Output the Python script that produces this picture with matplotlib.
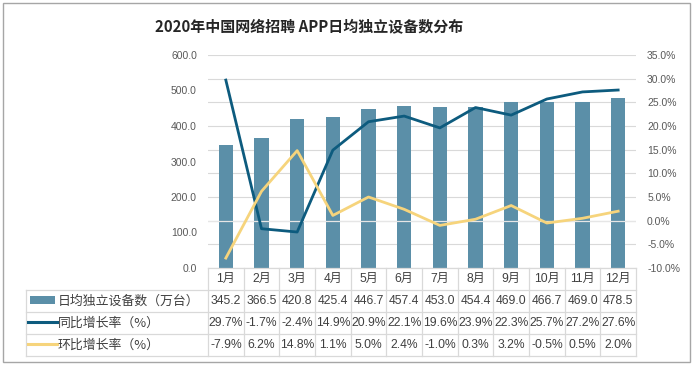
import matplotlib
matplotlib.use("Agg")
import matplotlib.pyplot as plt
import matplotlib.transforms as mtransforms
from matplotlib.patches import Rectangle
from matplotlib.lines import Line2D

plt.rcParams['font.family'] = ['Liberation Sans', 'Noto Sans CJK SC', 'DejaVu Sans']

months = ['1月', '2月', '3月', '4月', '5月', '6月', '7月', '8月', '9月', '10月', '11月', '12月']
devices = [345.2, 366.5, 420.8, 425.4, 446.7, 457.4, 453.0, 454.4, 469.0, 466.7, 469.0, 478.5]
yoy = [29.7, -1.7, -2.4, 14.9, 20.9, 22.1, 19.6, 23.9, 22.3, 25.7, 27.2, 27.6]
mom = [-7.9, 6.2, 14.8, 1.1, 5.0, 2.4, -1.0, 0.3, 3.2, -0.5, 0.5, 2.0]
row_names = ['日均独立设备数（万台）', '同比增长率（%）', '环比增长率（%）']

bar_color = '#5B8FA8'
yoy_color = '#0D5B7E'
mom_color = '#F6D47C'
grid_color = '#D9D9D9'
tick_color = '#595959'

W, H = 694, 366
fig = plt.figure(figsize=(W / 100, H / 100), dpi=100)

def fx(px):
    return px / W

def fy(py):
    return 1 - py / H

# outer border
fig.patches.append(Rectangle((fx(3), fy(362)), fx(687), 359 / H, transform=fig.transFigure,
                             fill=False, edgecolor='#A6A6A6', linewidth=1))

fig.text(fx(309), fy(26), '2020年中国网络招聘 APP日均独立设备数分布', ha='center', va='center',
         fontsize=10.8, fontweight='bold', color='#262626', family=['Noto Sans CJK SC'])

ax_l, ax_r, ax_t, ax_b = 208, 636, 55, 268
ax = fig.add_axes([fx(ax_l), fy(ax_b), (ax_r - ax_l) / W, (ax_b - ax_t) / H])
x = list(range(len(months)))
ax.set_xlim(-0.5, 11.5)
ax.set_ylim(0, 600)
ax.set_yticks(range(0, 601, 100))
ax.set_yticklabels([f'{v:.1f}' for v in range(0, 601, 100)])
ax.tick_params(axis='y', length=0, labelsize=7.5, labelcolor=tick_color, pad=8)
ax.set_xticks([])
for s in ax.spines.values():
    s.set_visible(False)

ax2 = ax.twinx()
ax2.set_ylim(-10, 35)
pt = list(range(-10, 36, 5))
ax2.set_yticks(pt)
ax2.set_yticklabels([f'{v:.1f}%' for v in pt])
ax2.tick_params(axis='y', length=0, labelsize=7.5, labelcolor=tick_color, pad=8)
for s in ax2.spines.values():
    s.set_visible(False)
for v in pt:
    ax.axhline((v + 10) / 45 * 600, color=grid_color, linewidth=0.8, zorder=0)

ax.bar(x, devices, width=0.4, color=bar_color, zorder=2)
ax2.axhline(0, color='#E6E6E6', linewidth=0.9, zorder=3)
ax2.plot(x, yoy, color=yoy_color, linewidth=2, zorder=4)
ax2.plot(x, mom, color=mom_color, linewidth=2, zorder=4)
ax2.set_zorder(ax.get_zorder() + 1)
ax2.patch.set_visible(False)

# data table
blend = mtransforms.blended_transform_factory(ax.transData, fig.transFigure)
rows_y = [268, 290, 312, 334, 356]
line_kw = dict(color=grid_color, linewidth=0.9)
fig.add_artist(Line2D([-0.5, 11.5], [fy(268), fy(268)], transform=blend, **line_kw))
for ry in rows_y[1:]:
    fig.add_artist(Line2D([fx(26), fx(ax_r)], [fy(ry), fy(ry)], transform=fig.transFigure, **line_kw))
fig.add_artist(Line2D([fx(26), fx(26)], [fy(290), fy(356)], transform=fig.transFigure, **line_kw))
for i in range(13):
    fig.add_artist(Line2D([i - 0.5, i - 0.5], [fy(268), fy(356)], transform=blend, **line_kw))

txt = dict(ha='center', va='center', fontsize=8.7, color='#404040', transform=blend)
for i, m in enumerate(months):
    fig.text(i, fy(279), m, **txt)
    fig.text(i, fy(301), f'{devices[i]:.1f}', **txt)
    fig.text(i, fy(323), f'{yoy[i]:.1f}%', **txt)
    fig.text(i, fy(345), f'{mom[i]:.1f}%', **txt)

fig.patches.append(Rectangle((fx(30), fy(304)), fx(25), 8 / H, transform=fig.transFigure,
                             facecolor=bar_color, edgecolor='none'))
fig.add_artist(Line2D([fx(28), fx(57)], [fy(322), fy(322)], transform=fig.transFigure,
                      color=yoy_color, linewidth=2.2))
fig.add_artist(Line2D([fx(28), fx(57)], [fy(344), fy(344)], transform=fig.transFigure,
                      color=mom_color, linewidth=2.2))
for name, ry in zip(row_names, [301, 323, 345]):
    fig.text(fx(58), fy(ry), name, ha='left', va='center', fontsize=9.3, color='#404040',
             family=['Noto Sans CJK SC'])

fig.savefig('out.png', dpi=100)
